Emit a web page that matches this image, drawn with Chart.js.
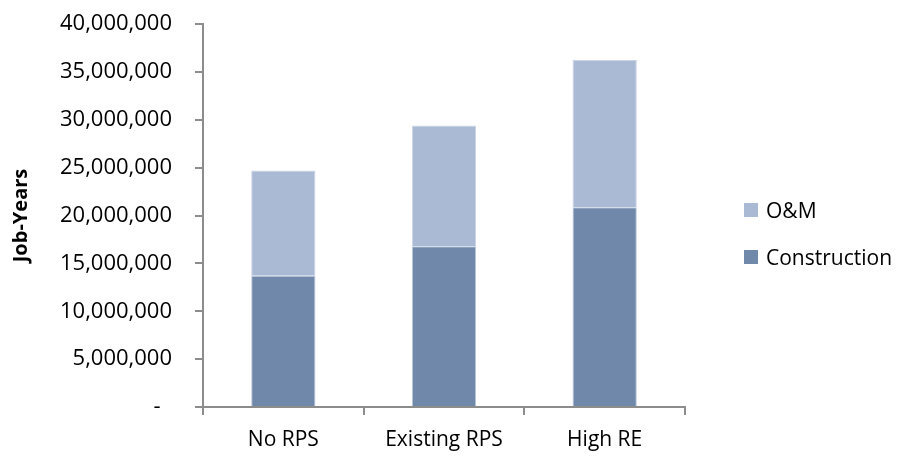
<!DOCTYPE html>
<html>
<head>
<meta charset="utf-8">
<script src="https://cdn.jsdelivr.net/npm/chart.js@4"></script>
<style>
  html, body { margin: 0; padding: 0; background: #fff; }
  #wrap { position: relative; width: 909px; height: 456px; }
  .legend-item { position: absolute; left: 744px; font: 21px "Open Sans", sans-serif; color: #000; display: flex; align-items: center; }
  .legend-item span.box { width: 14px; height: 14px; margin-right: 8px; display: inline-block; }
</style>
</head>
<body>
<div id="wrap">
  <canvas id="myChart" width="909" height="456"></canvas>
  <div class="legend-item" style="top:196px"><span class="box" style="background:#AABAD4"></span>O&amp;M</div>
  <div class="legend-item" style="top:243px"><span class="box" style="background:#7089AB"></span>Construction</div>
</div>
<script>
const categories = ['No RPS', 'Existing RPS', 'High RE'];
const construction = [13700000, 16800000, 20850000];
const om = [11000000, 12600000, 15400000];
const yTicks = [0, 5000000, 10000000, 15000000, 20000000, 25000000, 30000000, 35000000, 40000000];

const axisGray = '#8C8C8C';
const font = { family: '"Open Sans", sans-serif', size: 22 };

const ctx = document.getElementById('myChart');

new Chart(ctx, {
  type: 'bar',
  data: {
    labels: categories,
    datasets: [
      {
        label: 'Construction',
        data: construction,
        backgroundColor: '#7089AB',
        borderColor: '#B9C6DB',
        borderWidth: 1,
        categoryPercentage: 0.8,
        barPercentage: 0.5
      },
      {
        label: 'O&M',
        data: om,
        backgroundColor: '#AABAD4',
        borderColor: '#C9D3E5',
        borderWidth: 1,
        categoryPercentage: 0.8,
        barPercentage: 0.5
      }
    ]
  },
  options: {
    responsive: false,
    animation: false,
    layout: { padding: { top: 24, right: 224, bottom: 0, left: 0 } },
    plugins: {
      legend: { display: false },
      tooltip: { enabled: false }
    },
    scales: {
      x: {
        stacked: true,
        grid: { drawOnChartArea: false, drawTicks: true, tickLength: 8, color: axisGray, lineWidth: 2, offset: true },
        border: { display: true, color: axisGray, width: 2 },
        ticks: { color: '#000', font: { family: '"Open Sans", sans-serif', size: 21 }, padding: 12, maxRotation: 0 },
        afterFit: function (scale) { scale.height = 49; }
      },
      y: {
        stacked: true,
        min: 0,
        max: 40000000,
        afterBuildTicks: function (scale) { scale.ticks = yTicks.map(v => ({ value: v })); },
        grid: { drawOnChartArea: false, drawTicks: true, tickLength: 8, color: axisGray, lineWidth: 2 },
        border: { display: true, color: axisGray, width: 2 },
        ticks: {
          color: '#000',
          font: font,
          padding: 23,
          callback: function (v) { return v === 0 ? '-  ' : v.toLocaleString('en-US'); }
        },
        title: {
          display: true,
          text: 'Job-Years',
          color: '#000',
          font: { family: '"Open Sans", sans-serif', size: 20, weight: 'bold' },
          padding: { top: 9, bottom: 0 }
        },
        afterFit: function (scale) {
          scale.width = 203;
          scale.paddingTop = 0;
          scale.paddingBottom = 0;
        }
      }
    }
  }
});
</script>
</body>
</html>
